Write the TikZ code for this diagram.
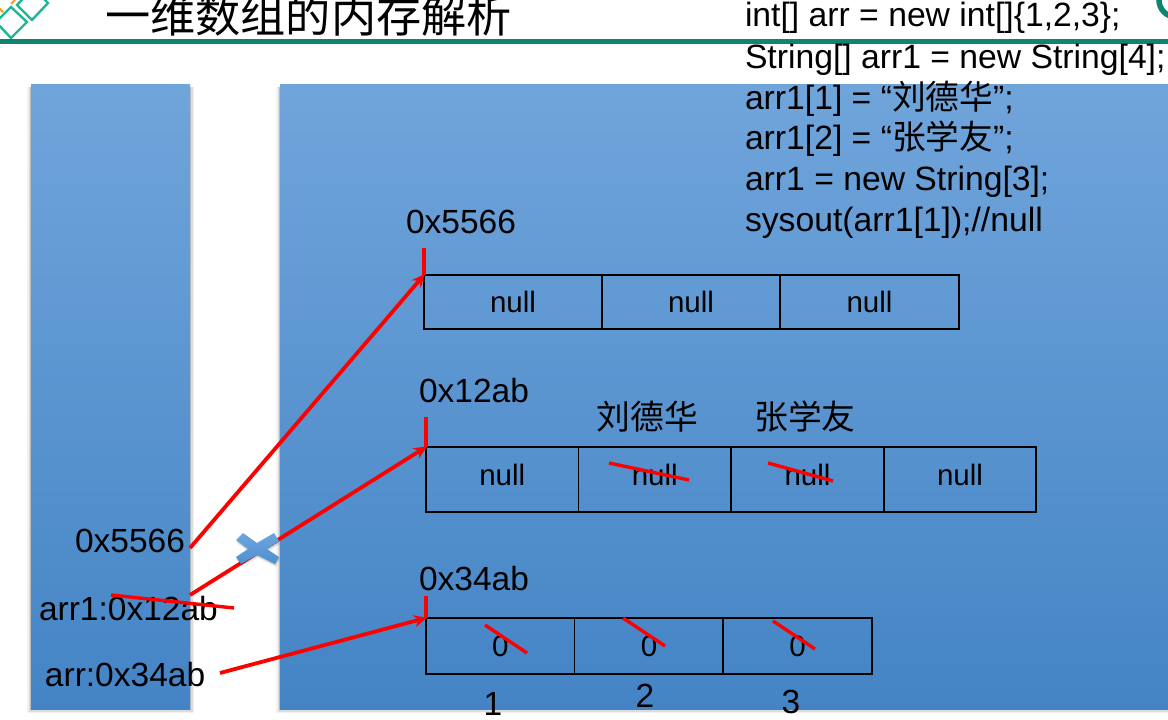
\documentclass[tikz,border=0pt]{standalone}
\usepackage{fontspec}
\setmainfont{Liberation Sans}
\newfontfamily\cjk{Noto Sans CJK SC}
\usetikzlibrary{arrows.meta}
\definecolor{paneltop}{HTML}{70A5DB}
\definecolor{panelmid}{HTML}{5A9ADB}
\definecolor{panelbot}{HTML}{4484C5}
\definecolor{crosstop}{HTML}{6CA6DE}
\definecolor{crossbot}{HTML}{4F8FCF}
\definecolor{rulegreen}{HTML}{0F8570}
\definecolor{logogreen}{HTML}{1FB696}
\definecolor{logoorange}{HTML}{F5A623}
\definecolor{redline}{HTML}{FF0000}
\tikzset{
  panelshade/.style={top color=paneltop,middle color=panelmid,bottom color=panelbot,draw=none},
  txt/.style={inner sep=0pt,outer sep=0pt,text=black,font=\fontsize{33.5}{33.5}\selectfont},
  codeline/.style={txt,anchor=base west,font=\fontsize{33.7}{34}\selectfont},
  cjktxt/.style={txt,font=\cjk\fontsize{33.8}{33.8}\selectfont},
  cell/.style={draw=black,line width=1.5pt,inner sep=0pt,outer sep=0pt,anchor=north west,
    text=black,font=\fontsize{29.5}{29.5}\selectfont,align=center},
  redl/.style={draw=redline,line width=3.8pt},
  redarrow/.style={redl,-{Stealth[length=13pt,width=12pt]},shorten >=-1pt},
  strike/.style={draw=redline,line width=3.4pt},
  logoline/.style={draw=logogreen,line width=2.4pt,line join=miter}
}
\newcommand{\softshadow}[4]{%
  \foreach \d/\o in {4/0.05,2.5/0.09,1.2/0.14}{%
    \fill[black,opacity=\o] (#1-\d,#2+3) rectangle (#3+\d,#4+\d);}}
\begin{document}
\begin{tikzpicture}[x=1pt,y=-1pt]
\clip (0,0) rectangle (1168,720);
\fill[white] (0,0) rectangle (1168,720);
% header
\draw[logoline] (11,7) -- (27,22) -- (11,38) -- (-4,22) -- cycle;
\draw[logoline] (17,5) -- (32,20) -- (48,3) -- (33,-12) -- cycle;
\draw[draw=logoorange,line width=2.4pt] (-1,8) -- (3,12);
\draw[draw=logoorange,line width=2.4pt] (11,4) -- (15,0);
\draw[draw=rulegreen,line width=5pt] (0,41) -- (1168,41);
\node[txt,anchor=base west,font=\cjk\fontsize{45.2}{45.2}\selectfont] (title) at (105,32) {一维数组的内存解析};
\draw[draw=rulegreen,line width=5.5pt] (1176,0) circle (17);
% panels
\softshadow{31}{84}{190}{709}
\softshadow{280}{84}{1175}{709}
\shade[panelshade] (31,84) rectangle (190,709);
\shade[panelshade] (280,84) rectangle (1175,709);
% code
\node[codeline] (c1) at (745,27) {int[] arr = new int[]\{1,2,3\};};
\node[codeline] (c2) at (745,68) {String[] arr1 = new String[4];};
\node[codeline] (c3) at (745,109) {arr1[1] = “{\cjk 刘德华}”;};
\node[codeline] (c4) at (745,149) {arr1[2] = “{\cjk 张学友}”;};
\node[codeline] (c5) at (745,190) {arr1 = new String[3];};
\node[codeline] (c6) at (745,231) {sysout(arr1[1]);//null};
% stack labels
\node[txt,anchor=base west] (s1) at (75,552) {0x5566};
\node[txt,anchor=base west] (s2) at (39,620) {arr1:0x12ab};
\node[txt,anchor=base west] (s3) at (45,686) {arr:0x34ab};
% array 1
\node[txt,anchor=base west] (h1) at (406,233) {0x5566};
\node[cell,minimum width=178pt,minimum height=54pt] (a1) at (424,275) {\raisebox{1pt}{null}};
\node[cell,minimum width=178pt,minimum height=54pt] (a2) at (602,275) {\raisebox{1pt}{null}};
\node[cell,minimum width=179pt,minimum height=54pt] (a3) at (780,275) {\raisebox{1pt}{null}};
% array 2
\node[txt,anchor=base west] (h2) at (419,402) {0x12ab};
\node[cell,minimum width=152.5pt,minimum height=65pt] (b1) at (426,447) {\raisebox{9pt}{null}};
\node[cell,minimum width=152.5pt,minimum height=65pt] (b2) at (578.5,447) {\raisebox{9pt}{null}};
\node[cell,minimum width=153pt,minimum height=65pt] (b3) at (731,447) {\raisebox{9pt}{null}};
\node[cell,minimum width=152pt,minimum height=65pt] (b4) at (884,447) {\raisebox{9pt}{null}};
\node[cjktxt] (n1) at (647.5,417) {刘德华};
\node[cjktxt] (n2) at (805,417) {张学友};
% array 3
\node[txt,anchor=base west] (h3) at (419,590) {0x34ab};
\node[cell,minimum width=148.5pt,minimum height=56pt] (d1) at (426,618) {0};
\node[cell,minimum width=149pt,minimum height=56pt] (d2) at (574.5,618) {0};
\node[cell,minimum width=149pt,minimum height=56pt] (d3) at (723,618) {0};
\node[txt,anchor=base] (i1) at (493,715) {1};
\node[txt,anchor=base] (i2) at (645,707) {2};
\node[txt,anchor=base] (i3) at (791,713) {3};
% connector ends
\coordinate (from1) at (190,548);
\coordinate (from2) at (190,595);
\coordinate (from3) at (220,673);
\coordinate (tick1) at (424,248);
\coordinate (tick2) at (426,417);
\coordinate (tick3) at (426,596);
\draw[redl] (tick1) -- (a1.north west);
\draw[redl] (tick2) -- (b1.north west);
\draw[redl] (tick3) -- (d1.north west);
\draw[redarrow] (from1) -- (a1.north west);
\draw[redarrow] (from2) -- (b1.north west);
\draw[redarrow] (from3) -- (d1.north west);
% strikes
\coordinate (k1a) at (111,595); \coordinate (k1b) at (234,608);
\coordinate (k2a) at (609,463); \coordinate (k2b) at (689,480);
\coordinate (k3a) at (768,463); \coordinate (k3b) at (833,481);
\coordinate (k4a) at (485,625); \coordinate (k4b) at (527,653);
\coordinate (k5a) at (623,618); \coordinate (k5b) at (665,646);
\coordinate (k6a) at (773,621); \coordinate (k6b) at (815,649);
\foreach \k in {1,...,6}{\draw[strike] (k\k a) -- (k\k b);}
% cross mark
\foreach \d/\o in {3/0.08,1.5/0.12}{
\fill[black,opacity=\o,shift={(\d*0.3,\d)}] (236,540) -- (243,533) -- (257,543) -- (274,533) -- (279,541) -- (267,549) -- (279,557) -- (275,564) -- (257,555) -- (241,564) -- (236,557) -- (248,549) -- cycle;}
\shade[top color=crosstop,bottom color=crossbot,draw=none] (236,540) -- (243,533) -- (257,543) -- (274,533) -- (279,541) -- (267,549) -- (279,557) -- (275,564) -- (257,555) -- (241,564) -- (236,557) -- (248,549) -- cycle;
\end{tikzpicture}
\end{document}
